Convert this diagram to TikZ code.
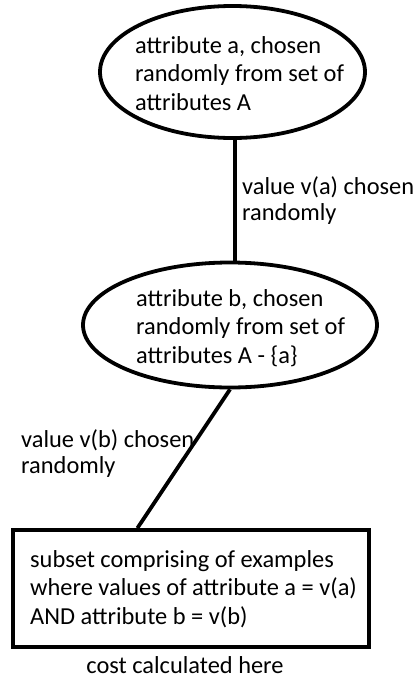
\documentclass[tikz,border=0pt]{standalone}
\usepackage{fontspec}
\setmainfont{Carlito}
\usetikzlibrary{shapes.geometric,calc}
\begin{document}
\begin{tikzpicture}[x=1pt,y=-1pt,
  every node/.style={font=\fontsize{24.4}{28.5}\selectfont, text=black},
  bubble/.style={draw, ellipse, line width=3.8pt, inner sep=0pt},
  conn/.style={line width=3.8pt},
  txt/.style={align=left, inner sep=0pt},
  lbl/.style={align=left, inner sep=0pt, font=\fontsize{24.4}{26}\selectfont}]
\useasboundingbox (0,0) rectangle (415,678);
\node[bubble, minimum width=265pt, minimum height=132pt] (e1) at (232.5,72) {};
\node[bubble, minimum width=294pt, minimum height=125pt] (e2) at (230,325) {};
\node[txt, anchor=base west] (t1) at (135,110) {attribute a, chosen\\randomly from set of\\attributes A};
\node[txt, anchor=base west] (t2) at (136,363) {attribute b, chosen\\randomly from set of\\attributes A - \{a\}};
\node[draw, line width=3.8pt, minimum width=356pt, minimum height=117pt, inner sep=0pt] (box) at (191,588.5) {};
\node[txt, anchor=base west] (t3) at (30,624) {subset comprising of examples\\where values of attribute a = v(a)\\AND attribute b = v(b)};
\node[anchor=base, inner sep=0pt] (cost) at (185,673) {cost calculated here};
\node[lbl, anchor=base west] (va) at (242,220) {value v(a) chosen\\randomly};
\node[lbl, anchor=base west] (vb) at (21,473) {value v(b) chosen\\randomly};
\coordinate (bt) at ($(box.north west)!0.351!(box.north east)$);
\draw[conn] (e1.-88) -- (e1.-88 |- e2.north);
\draw[conn] (e2.south) -- (bt);
\end{tikzpicture}
\end{document}
